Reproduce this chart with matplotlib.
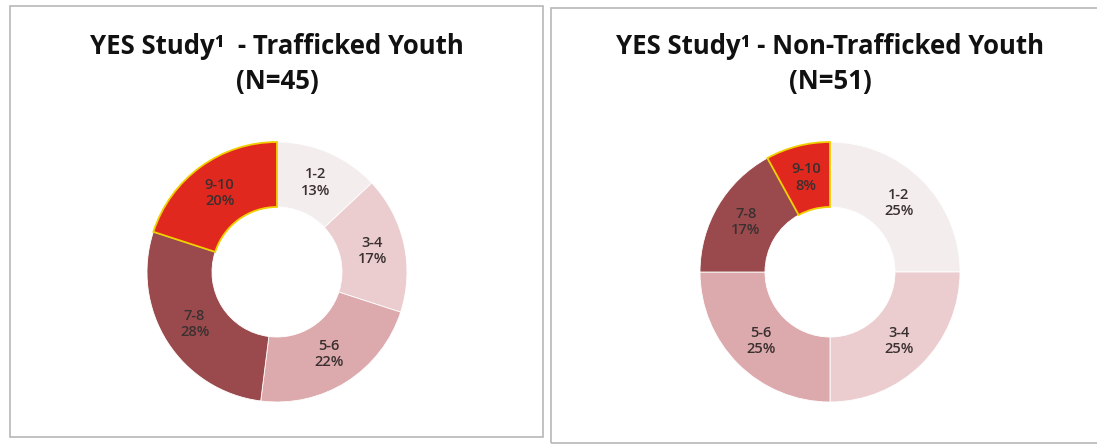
import matplotlib.pyplot as plt
from matplotlib.patches import Rectangle

plt.rcParams['font.family'] = ['Open Sans', 'DejaVu Sans']

categories = ['1-2', '3-4', '5-6', '7-8', '9-10']
trafficked = [13, 17, 22, 28, 20]
non_trafficked = [25, 25, 25, 17, 8]
titles = ['YES Study\u00b9  - Trafficked Youth\n(N=45)',
          'YES Study\u00b9 - Non-Trafficked Youth\n(N=51)']
colors = ['#f3eded', '#ebcdd0', '#dca9ac', '#9a4a4c', '#e1281e']

W, H = 1097, 444
fig = plt.figure(figsize=(W / 100, H / 100), dpi=100)

# panel frames (pixel coords, from top-left)
for x0, y0, x1, y1 in [(10, 6, 543, 437), (551, 8, 1110, 443)]:
    fig.patches.append(Rectangle((x0 / W, 1 - y1 / H), (x1 - x0) / W, (y1 - y0) / H,
                                 transform=fig.transFigure, fill=False,
                                 edgecolor='#b8b8b8', linewidth=1.2))

centers = [(277, 272), (830, 272)]
radius = 130
for (cx, cy), vals, title in zip(centers, [trafficked, non_trafficked], titles):
    ax = fig.add_axes([(cx - radius) / W, 1 - (cy + radius) / H, 2 * radius / W, 2 * radius / H])
    labels = [f'{c}\n{v}%' for c, v in zip(categories, vals)]
    wedges, texts = ax.pie(vals, colors=colors, startangle=90, counterclock=False,
                           radius=1, labels=labels, labeldistance=0.75,
                           wedgeprops=dict(width=0.5, edgecolor='white', linewidth=0.6),
                           textprops=dict(ha='center', va='center', fontsize=10.5,
                                          fontweight='semibold', color='#3a3030',
                                          linespacing=1.2))
    wedges[-1].set_edgecolor('#f0d000')
    wedges[-1].set_linewidth(1.3)
    ax.set_xlim(-1, 1)
    ax.set_ylim(-1, 1)
    ax.set_aspect('equal')
    ax.axis('off')
    fig.text(cx / W, 1 - 64 / H, title, ha='center', va='center', fontsize=18.5,
             fontweight='bold', color='#111111', linespacing=1.35)

plt.savefig('out.png', dpi=100)
